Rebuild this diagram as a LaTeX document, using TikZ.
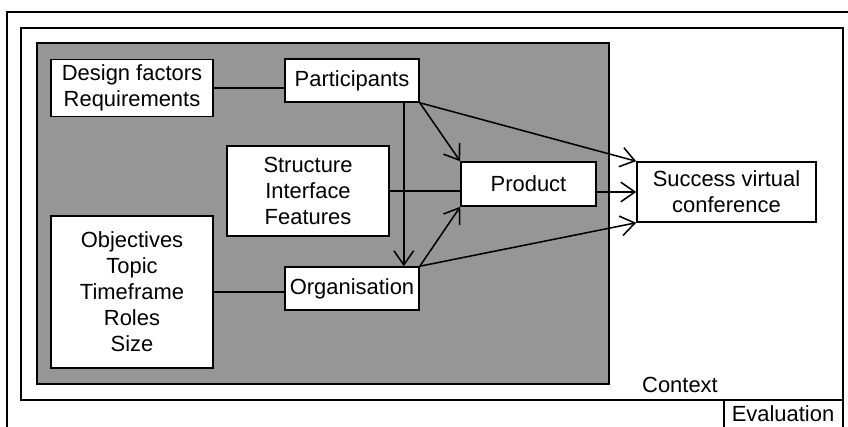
\documentclass[tikz,border=0pt]{standalone}
\usepackage{fontspec}
\setmainfont{Liberation Sans}
\usepackage{tikz}
\usetikzlibrary{arrows.meta}

\definecolor{panelgray}{RGB}{150,150,150}

\begin{document}
\begin{tikzpicture}[x=0.025cm, y=-0.025cm, line width=1.1pt,
        box/.style={draw, fill=white, inner sep=0pt, align=center,
            font=\fontsize{15.6}{18.5}\selectfont},
        link/.style={-{Straight Barb[length=10pt,width=14pt]}}]
        \useasboundingbox (0,0) rectangle (848,427);
        \clip (0,0) rectangle (848,427);
        % frames
        \draw (7,12) rectangle (870,450);
        \draw (21,28) rectangle (843,400);
        \draw[fill=panelgray] (37,43) rectangle (609,384);
        \draw (724,400) rectangle (843,450);
        \node[font=\fontsize{15.6}{18.5}\selectfont] (ctx) at (680,385) {Context};
        \node[font=\fontsize{15.6}{18.5}\selectfont] (eval) at (783,414) {Evaluation};
        % boxes
        \node[box, minimum width=4.05cm, minimum height=1.425cm] (design) at (132,88) {Design factors\\Requirements};
        \node[box, minimum width=3.35cm, minimum height=1.075cm] (parts) at (352,80.5) {Participants};
        \node[box, minimum width=4.05cm, minimum height=2.25cm] (struct) at (308,191) {Structure\\Interface\\Features};
        \node[box, minimum width=4.05cm, minimum height=3.8cm] (obj) at (132,292) {Objectives\\Topic\\Timeframe\\Roles\\Size};
        \node[box, minimum width=3.35cm, minimum height=1.075cm] (org) at (352,288.5) {Organisation};
        \node[box, minimum width=3.375cm, minimum height=1.1cm] (prod) at (528.5,184) {Product};
        \node[box, minimum width=4.475cm, minimum height=1.5cm] (success) at (726.5,192) {Success virtual\\conference};
        % connectors
        \draw (design.east) -- (design.east -| parts.west);
        \draw (obj.east) -- (obj.east -| org.west);
        \draw (struct.east) -- (struct.east -| prod.west);
        \draw[link] ([xshift=-0.4cm]parts.south east) -- ([xshift=-0.4cm]org.north east);
        \draw[link] (parts.south east) -- (prod.north west);
        \draw[link] (parts.south east) -- (success.north west);
        \draw[link] (org.north east) -- (prod.south west);
        \draw[link] (org.north east) -- (success.south west);
        \draw[link] (success.west -| prod.east) -- (success.west);
\end{tikzpicture}
\end{document}
